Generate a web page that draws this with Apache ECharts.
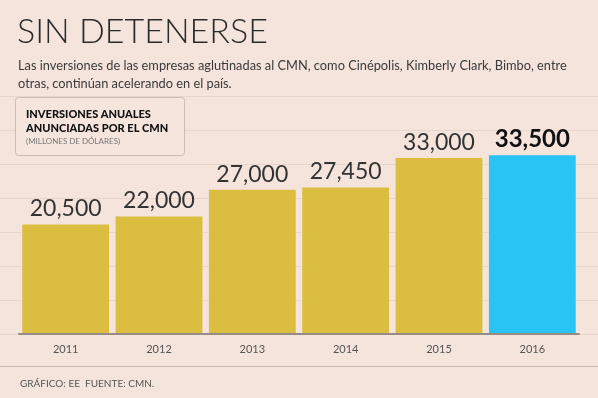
<!DOCTYPE html>
<html>
<head>
<meta charset="utf-8">
<script src="https://cdn.jsdelivr.net/npm/echarts@6/dist/echarts.min.js"></script>
<style>
  html, body { margin: 0; padding: 0; background: #f5e4dc; }
  #main { width: 598px; height: 398px; }
</style>
</head>
<body>
<div id="main"></div>
<script>
// datos
const years = ['2011', '2012', '2013', '2014', '2015', '2016'];
const inversiones = [20500, 22000, 27000, 27450, 33000, 33500];
const gridSteps = [0, 1, 2, 3, 4, 5, 6, 7];

const chart = echarts.init(document.getElementById('main'));

let barData = inversiones.map((v, i) => {
  if (i === inversiones.length - 1) {
    return {
      value: v,
      itemStyle: { color: '#29c4f4' },
      label: { fontWeight: 'bold', color: '#111', fontSize: 24 }
    };
  }
  return v;
});

let option = {
  backgroundColor: '#f5e4dc',
  animation: false,
  title: [{
    text: 'SIN DETENERSE',
    left: 12,
    top: 10,
    textStyle: { fontFamily: 'Lato', fontWeight: 300, fontSize: 34, color: '#2a2a2a' }
  }, {
    text: 'Las inversiones de las empresas aglutinadas al CMN, como Cinépolis, Kimberly Clark, Bimbo, entre\notras, continúan acelerando en el país.',
    left: 13,
    top: 52,
    textStyle: { fontFamily: 'Lato', fontWeight: 'normal', fontSize: 12.8, lineHeight: 18, color: '#3a3a3a' }
  }, {
    text: 'GRÁFICO: EE  FUENTE: CMN.',
    left: 15,
    top: 374,
    textStyle: { fontFamily: 'Lato', fontWeight: 'normal', fontSize: 10, color: '#555' }
  }],
  grid: [
    { left: 19, right: 19, top: 96.7, bottom: 64.5 },
    { left: 0, right: 0, top: 96.7, bottom: 63.7 }
  ],
  xAxis: [{
    type: 'category',
    gridIndex: 0,
    data: years,
    z: 6,
    axisTick: { show: false },
    axisLine: { show: true, onZero: false, lineStyle: { color: '#968c85', width: 2 } },
    axisLabel: { fontFamily: 'Lato', fontSize: 11, color: '#555', margin: 10 }
  }, {
    type: 'value',
    gridIndex: 1,
    min: 0,
    max: 1,
    show: false
  }],
  yAxis: [{
    type: 'value',
    gridIndex: 0,
    min: 0,
    max: 44500,
    show: false,
    splitLine: { show: false }
  }, {
    type: 'value',
    gridIndex: 1,
    min: gridSteps[0],
    max: gridSteps[gridSteps.length - 1],
    interval: 1,
    axisLine: { show: false },
    axisTick: { show: false },
    axisLabel: { show: false },
    splitLine: { show: true, lineStyle: { color: '#e8d6cd', width: 1 } }
  }],
  series: [{
    type: 'bar',
    xAxisIndex: 0,
    yAxisIndex: 0,
    data: barData,
    barCategoryGap: '7%',
    itemStyle: { color: '#dbbd40' },
    label: {
      show: true,
      position: 'top',
      distance: 4,
      fontFamily: 'Lato',
      fontSize: 23,
      color: '#333',
      formatter(p) {
        return p.value.toLocaleString('en-US');
      }
    },
    z: 3
  }],
  graphic: [{
    type: 'rect',
    shape: { x: 15.5, y: 97.5, width: 169, height: 58, r: 3 },
    style: { fill: '#f6e5dd', stroke: '#c9bdb5', lineWidth: 1 },
    z: 10
  }, {
    type: 'text',
    left: 26,
    top: 107,
    style: {
      text: 'INVERSIONES ANUALES\nANUNCIADAS POR EL CMN',
      font: '900 11px Lato',
      lineHeight: 14,
      fill: '#111'
    },
    z: 11
  }, {
    type: 'text',
    left: 26,
    top: 137,
    style: {
      text: '(MILLONES DE DÓLARES)',
      font: '8px Lato',
      fill: '#777'
    },
    z: 11
  }, {
    type: 'line',
    shape: { x1: 0, y1: 366.5, x2: 598, y2: 366.5 },
    style: { stroke: '#c9b8ae', lineWidth: 1 }
  }]
};
chart.setOption(option);
</script>
</body>
</html>
